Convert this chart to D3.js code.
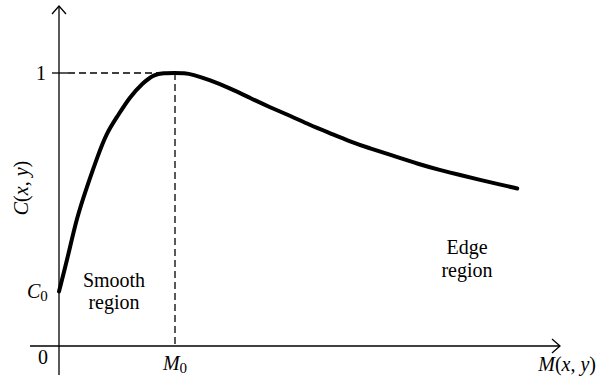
<!DOCTYPE html>
<html>
<head>
<meta charset="utf-8">
<script src="https://cdn.jsdelivr.net/npm/d3@7"></script>
<style>
body { margin: 0; background: #fff; }
text { font-family: "Liberation Serif", "DejaVu Serif", serif; fill: #000; }
</style>
</head>
<body>
<script>
var width = 597;
var height = 381;

// curve, M in units of M0, C in units of max (1)
var mValues = [0, 0.07, 0.155, 0.24, 0.33, 0.41, 0.5, 0.61, 0.72, 0.82, 0.9, 1.0, 1.08, 1.15, 1.3, 1.47, 1.65, 1.82, 1.99, 2.16, 2.34, 2.51, 2.68, 2.85, 3.11, 3.28, 3.46, 3.63, 3.8, 3.95];
var cValues = [0.2, 0.315, 0.473, 0.582, 0.692, 0.78, 0.839, 0.912, 0.963, 0.995, 1.0, 1.0, 1.0, 0.995, 0.974, 0.945, 0.908, 0.874, 0.844, 0.81, 0.779, 0.749, 0.724, 0.701, 0.665, 0.645, 0.626, 0.608, 0.592, 0.577];
var c0 = 0.2;
var m0 = 1;
var cMax = 1;

var x = d3.scaleLinear().domain([0, 1]).range([59, 175]);
var y = d3.scaleLinear().domain([0, 1]).range([346, 73]);

var svg = d3.select("body")
    .append("svg")
    .attr("width", width)
    .attr("height", height);

// axes
svg.append("line")
    .attr("x1", x(-0.25)).attr("y1", y(0))
    .attr("x2", 560).attr("y2", y(0))
    .attr("stroke", "#000").attr("stroke-width", 1.3);
svg.append("path")
    .attr("d", "M552,339 L560," + y(0) + " L552,353")
    .attr("fill", "none").attr("stroke", "#000").attr("stroke-width", 1.3);

svg.append("line")
    .attr("x1", x(0)).attr("y1", 375)
    .attr("x2", x(0)).attr("y2", 6)
    .attr("stroke", "#000").attr("stroke-width", 1.3);
svg.append("path")
    .attr("d", "M52,14 L" + x(0) + ",6 L66,14")
    .attr("fill", "none").attr("stroke", "#000").attr("stroke-width", 1.3);

// tick at 1
svg.append("line")
    .attr("x1", 52).attr("y1", y(cMax))
    .attr("x2", 68).attr("y2", y(cMax))
    .attr("stroke", "#000").attr("stroke-width", 1.3);

// dashed guides
svg.append("line")
    .attr("x1", 68).attr("y1", y(cMax))
    .attr("x2", x(m0)).attr("y2", y(cMax))
    .attr("stroke", "#000").attr("stroke-width", 1.3)
    .attr("stroke-dasharray", "7,4");
svg.append("line")
    .attr("x1", x(m0)).attr("y1", y(cMax))
    .attr("x2", x(m0)).attr("y2", y(0))
    .attr("stroke", "#000").attr("stroke-width", 1.3)
    .attr("stroke-dasharray", "7,4");

// curve
var points = mValues.map(function(m, i) { return [m, cValues[i]]; });
var line = d3.line()
    .x(function(d) { return x(d[0]); })
    .y(function(d) { return y(d[1]); })
    .curve(d3.curveBasis);
svg.append("path")
    .datum(points)
    .attr("d", line)
    .attr("fill", "none")
    .attr("stroke", "#000")
    .attr("stroke-width", 4)
    .attr("stroke-linecap", "round");

// labels
var fs = "20px";
var sub = "15px";
svg.append("text").attr("x", 46).attr("y", y(cMax) + 7)
    .attr("text-anchor", "end").attr("font-size", fs).text("1");

var c0Label = svg.append("text").attr("x", 27).attr("y", y(c0) + 7)
    .attr("font-size", fs).attr("font-style", "italic");
c0Label.append("tspan").text("C");
c0Label.append("tspan").attr("font-style", "normal").attr("font-size", sub).attr("dy", 3).text("0");

svg.append("text").attr("x", 48).attr("y", 364)
    .attr("text-anchor", "end").attr("font-size", fs).text("0");

var m0Label = svg.append("text").attr("x", x(m0)).attr("y", 370)
    .attr("text-anchor", "middle").attr("font-size", fs).attr("font-style", "italic");
m0Label.append("tspan").text("M");
m0Label.append("tspan").attr("font-style", "normal").attr("font-size", sub).attr("dy", 3).text("0");

var mLabel = svg.append("text").attr("x", 596).attr("y", 371)
    .attr("text-anchor", "end").attr("font-size", fs).attr("font-style", "italic");
mLabel.append("tspan").text("M");
mLabel.append("tspan").attr("font-style", "normal").text("(");
mLabel.append("tspan").text("x");
mLabel.append("tspan").attr("font-style", "normal").text(", ");
mLabel.append("tspan").text("y");
mLabel.append("tspan").attr("font-style", "normal").text(")");

var cLabel = svg.append("text")
    .attr("transform", "translate(28,188) rotate(-90)")
    .attr("text-anchor", "middle").attr("font-size", fs).attr("font-style", "italic");
cLabel.append("tspan").text("C");
cLabel.append("tspan").attr("font-style", "normal").text("(");
cLabel.append("tspan").text("x");
cLabel.append("tspan").attr("font-style", "normal").text(", ");
cLabel.append("tspan").text("y");
cLabel.append("tspan").attr("font-style", "normal").text(")");

svg.append("text").attr("x", 114).attr("y", 287)
    .attr("text-anchor", "middle").attr("font-size", fs).text("Smooth");
svg.append("text").attr("x", 114).attr("y", 309)
    .attr("text-anchor", "middle").attr("font-size", fs).text("region");

svg.append("text").attr("x", 467).attr("y", 254)
    .attr("text-anchor", "middle").attr("font-size", fs).text("Edge");
svg.append("text").attr("x", 467).attr("y", 277)
    .attr("text-anchor", "middle").attr("font-size", fs).text("region");
</script>
</body>
</html>
